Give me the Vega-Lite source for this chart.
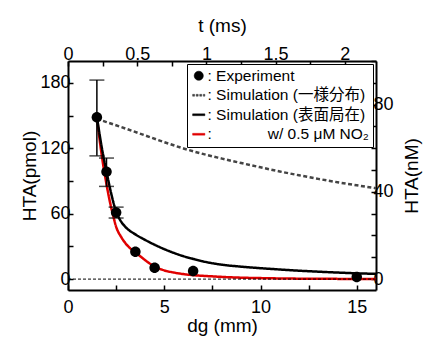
{
  "$schema": "https://vega.github.io/schema/vega-lite/v6.json",
  "width": 308,
  "height": 229,
  "autosize": "none",
  "padding": {"left": 68, "top": 61, "right": 48, "bottom": 48},
  "background": "white",
  "config": {
    "view": {"stroke": null},
    "font": "Liberation Sans",
    "axis": {
      "grid": false, "domainColor": "black", "domainWidth": 2,
      "tickColor": "black", "tickWidth": 1.5, "tickSize": -5,
      "labelFontSize": 18, "labelColor": "black", "labelFont": "Liberation Sans",
      "titleFontSize": 19, "titleFontWeight": "normal", "titleColor": "black", "titleFont": "Liberation Sans",
      "labelFlush": false, "labelOverlap": false
    },
    "legend": {
      "title": null, "orient": "top-right", "offset": 3, "padding": 4,
      "strokeColor": "black", "fillColor": "white",
      "labelFontSize": 15.5, "labelFont": "Liberation Sans, 'Noto Sans CJK JP'", "labelColor": "black",
      "labelLimit": 400, "labelOffset": 1, "rowPadding": 2.5, "symbolSize": 150, "symbolOpacity": 1, "symbolStrokeWidth": 0.5
    }
  },
  "datasets": {
    "sim": [
      {"series": "uniform", "d": 1.5, "v": 147}, {"series": "uniform", "d": 2, "v": 144}, {"series": "uniform", "d": 3, "v": 138},
      {"series": "uniform", "d": 4, "v": 131.8}, {"series": "uniform", "d": 5, "v": 125.6}, {"series": "uniform", "d": 6, "v": 119.8},
      {"series": "uniform", "d": 7, "v": 114.8}, {"series": "uniform", "d": 8, "v": 110.5}, {"series": "uniform", "d": 9, "v": 106.4},
      {"series": "uniform", "d": 10, "v": 102.5}, {"series": "uniform", "d": 11, "v": 98.7}, {"series": "uniform", "d": 12, "v": 95.2},
      {"series": "uniform", "d": 13, "v": 91.9}, {"series": "uniform", "d": 14, "v": 88.8}, {"series": "uniform", "d": 15, "v": 86}, {"series": "uniform", "d": 16, "v": 83.4},
      {"series": "NO2", "d": 1.5, "v": 149}, {"series": "NO2", "d": 1.6, "v": 134}, {"series": "NO2", "d": 1.75, "v": 114},
      {"series": "NO2", "d": 1.9, "v": 97}, {"series": "NO2", "d": 2, "v": 87}, {"series": "NO2", "d": 2.2, "v": 69},
      {"series": "NO2", "d": 2.35, "v": 58}, {"series": "NO2", "d": 2.5, "v": 48}, {"series": "NO2", "d": 2.75, "v": 39},
      {"series": "NO2", "d": 3, "v": 32.5}, {"series": "NO2", "d": 3.25, "v": 28}, {"series": "NO2", "d": 3.5, "v": 24.5},
      {"series": "NO2", "d": 3.75, "v": 21}, {"series": "NO2", "d": 4, "v": 17.5}, {"series": "NO2", "d": 4.5, "v": 11.5},
      {"series": "NO2", "d": 5, "v": 8}, {"series": "NO2", "d": 5.5, "v": 6}, {"series": "NO2", "d": 6, "v": 4.6},
      {"series": "NO2", "d": 6.5, "v": 3.6}, {"series": "NO2", "d": 7, "v": 3}, {"series": "NO2", "d": 7.5, "v": 2.5},
      {"series": "NO2", "d": 8, "v": 2}, {"series": "NO2", "d": 9, "v": 1.3}, {"series": "NO2", "d": 10, "v": 0.9},
      {"series": "NO2", "d": 12, "v": 0.4}, {"series": "NO2", "d": 14, "v": 0.2}, {"series": "NO2", "d": 16, "v": 0.1},
      {"series": "surface", "d": 1.5, "v": 149}, {"series": "surface", "d": 1.75, "v": 121}, {"series": "surface", "d": 2, "v": 98.5},
      {"series": "surface", "d": 2.25, "v": 78}, {"series": "surface", "d": 2.5, "v": 62}, {"series": "surface", "d": 2.75, "v": 53},
      {"series": "surface", "d": 3, "v": 47.5}, {"series": "surface", "d": 3.5, "v": 41}, {"series": "surface", "d": 4, "v": 36},
      {"series": "surface", "d": 4.5, "v": 31.5}, {"series": "surface", "d": 5, "v": 27.5}, {"series": "surface", "d": 5.5, "v": 24},
      {"series": "surface", "d": 6, "v": 21}, {"series": "surface", "d": 6.5, "v": 18.5}, {"series": "surface", "d": 7, "v": 16.3},
      {"series": "surface", "d": 8, "v": 13.2}, {"series": "surface", "d": 9, "v": 11.4}, {"series": "surface", "d": 10, "v": 10},
      {"series": "surface", "d": 11, "v": 8.8}, {"series": "surface", "d": 12, "v": 7.7}, {"series": "surface", "d": 13, "v": 6.8},
      {"series": "surface", "d": 14, "v": 6}, {"series": "surface", "d": 15, "v": 5.3}, {"series": "surface", "d": 16, "v": 4.8}
    ],
    "exp": [
      {"series": "Experiment", "d": 1.5, "v": 148.5}, {"series": "Experiment", "d": 2.0, "v": 98.5},
      {"series": "Experiment", "d": 2.5, "v": 61}, {"series": "Experiment", "d": 3.5, "v": 25},
      {"series": "Experiment", "d": 4.5, "v": 10.5}, {"series": "Experiment", "d": 6.5, "v": 7.5},
      {"series": "Experiment", "d": 15, "v": 2}
    ],
    "errs": [
      {"d": 1.5, "lo": 113, "hi": 182.5}, {"d": 2.0, "lo": 85, "hi": 111}, {"d": 2.5, "lo": 56, "hi": 66}
    ]
  },
  "resolve": {"axis": {"x": "independent", "y": "independent"}},
  "layer": [
    {
      "data": {"name": "sim"},
      "mark": {"type": "line", "strokeWidth": 2.5, "interpolate": "monotone"},
      "encoding": {
        "x": {"field": "d", "type": "quantitative", "scale": {"domain": [0, 16], "nice": false, "zero": false},
          "axis": {"orient": "top", "title": "t (ms)", "values": [0, 1.7975, 3.595, 5.3925, 7.19, 8.9875, 10.785, 12.5825, 14.38],
            "labelExpr": "abs(datum.value/3.595 - round(datum.value/3.595)) < 0.01 ? format(round(datum.value/7.19*100)/100, '') : ''",
            "labelPadding": 3, "titlePadding": 10}},
        "y": {"field": "v", "type": "quantitative", "scale": {"domain": [-10, 200], "nice": false, "zero": false},
          "axis": {"orient": "right", "title": "HTA(nM)", "values": [0, 20, 40, 60, 80, 100, 120, 140, 160, 180, 200],
            "labelExpr": "datum.value % 80 === 0 ? format(datum.value/2, '') : ''", "labelPadding": 2, "titleAngle": 270, "titlePadding": 28}},
        "color": {"field": "series", "type": "nominal",
          "scale": {"domain": ["Experiment", "uniform", "surface", "NO2"], "range": ["black", "#444444", "black", "#e00000"]}},
        "strokeDash": {"field": "series", "type": "nominal", "legend": null,
          "scale": {"domain": ["uniform", "surface", "NO2"], "range": [[4, 2.5], [1, 0], [1, 0]]}},
        "order": {"field": "d", "type": "quantitative"}
      }
    },
    {
      "data": {"values": [{}]},
      "mark": {"type": "rule", "color": "black", "strokeWidth": 1, "strokeDash": [3, 2]},
      "encoding": {"y": {"datum": 0, "type": "quantitative", "axis": null}}
    },
    {
      "data": {"name": "errs"},
      "mark": {"type": "rule", "color": "black", "strokeWidth": 1.5},
      "encoding": {
        "x": {"field": "d", "type": "quantitative", "axis": null},
        "y": {"field": "lo", "type": "quantitative", "axis": null},
        "y2": {"field": "hi"}
      }
    },
    {
      "data": {"name": "errs"},
      "mark": {"type": "tick", "color": "black", "orient": "horizontal", "size": 15, "thickness": 1.5},
      "encoding": {
        "x": {"field": "d", "type": "quantitative", "axis": null},
        "y": {"field": "hi", "type": "quantitative", "axis": null}
      }
    },
    {
      "data": {"name": "errs"},
      "mark": {"type": "tick", "color": "black", "orient": "horizontal", "size": 15, "thickness": 1.5},
      "encoding": {
        "x": {"field": "d", "type": "quantitative", "axis": null},
        "y": {"field": "lo", "type": "quantitative", "axis": null}
      }
    },
    {
      "data": {"name": "exp"},
      "mark": {"type": "point", "filled": true, "size": 196, "opacity": 1, "strokeWidth": 0},
      "encoding": {
        "x": {"field": "d", "type": "quantitative",
          "axis": {"orient": "bottom", "title": "dg (mm)", "values": [0, 2.5, 5, 7.5, 10, 12.5, 15],
            "labelExpr": "datum.value % 5 === 0 ? datum.label : ''", "labelPadding": 13, "titlePadding": 0}},
        "y": {"field": "v", "type": "quantitative",
          "axis": {"orient": "left", "title": "HTA(pmol)", "values": [0, 30, 60, 90, 120, 150, 180],
            "labelExpr": "datum.value % 60 === 0 ? datum.label : ''", "labelPadding": 3, "titlePadding": 0}},
        "color": {"field": "series", "type": "nominal",
          "scale": {"domain": ["Experiment", "uniform", "surface", "NO2"], "range": ["black", "#444444", "black", "#e00000"]},
          "legend": {
            "labelExpr": "datum.value === 'Experiment' ? ': Experiment' : datum.value === 'uniform' ? ': Simulation (一様分布)' : datum.value === 'surface' ? ': Simulation (表面局在)' : ':\u00a0\u00a0\u00a0\u00a0\u00a0\u00a0\u00a0\u00a0\u00a0\u00a0\u00a0\u00a0 w/ 0.5 μM NO₂'"
          }
        },
        "shape": {"field": "series", "type": "nominal",
          "scale": {"domain": ["Experiment", "uniform", "surface", "NO2"],
            "range": [
              "M-0.75,0A0.75,0.75,0,1,1,0.75,0A0.75,0.75,0,1,1,-0.75,0Z",
              "M-1,-0.15H-0.67V0.15H-1ZM-0.42,-0.15H-0.09V0.15H-0.42ZM0.16,-0.15H0.49V0.15H0.16ZM0.74,-0.15H1V0.15H0.74Z",
              "M-1,-0.15H1V0.15H-1Z",
              "M-1,-0.15H1V0.15H-1Z"
            ]},
          "legend": {
            "labelExpr": "datum.value === 'Experiment' ? ': Experiment' : datum.value === 'uniform' ? ': Simulation (一様分布)' : datum.value === 'surface' ? ': Simulation (表面局在)' : ':\u00a0\u00a0\u00a0\u00a0\u00a0\u00a0\u00a0\u00a0\u00a0\u00a0\u00a0\u00a0 w/ 0.5 μM NO₂'"
          }
        }
      }
    }
  ]
}
